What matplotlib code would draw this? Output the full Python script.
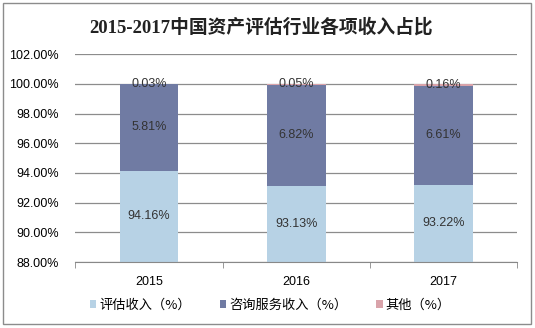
import matplotlib.pyplot as plt
from matplotlib.patches import Patch, Rectangle
import numpy as np

plt.rcParams['font.family'] = ['Liberation Sans', 'Noto Sans CJK SC', 'DejaVu Sans']

years = ['2015', '2016', '2017']
appraisal = [94.16, 93.13, 93.22]
consulting = [5.81, 6.82, 6.61]
other = [0.03, 0.05, 0.16]
series_names = ['评估收入（%）', '咨询服务收入（%）', '其他（%）']
colors = ['#b7d2e5', '#707ba3', '#d9a3aa']
title = '2015-2017中国资产评估行业各项收入占比'

base = 88.0

fig = plt.figure(figsize=(5.35, 3.28), dpi=100)
ax = fig.add_axes([0.141, 0.201, 0.825, 0.634])

x = np.arange(len(years))
width = 0.40

bottoms = np.full(len(years), base)
for vals, c in zip([appraisal, consulting, other], colors):
    vals = np.array(vals)
    heights = vals.copy()
    # first segment starts from the axis floor
    if bottoms[0] == base:
        heights = vals - base
    ax.bar(x, heights, width, bottom=bottoms, color=c, zorder=3)
    for xi, b, h, v in zip(x, bottoms, heights, vals):
        ax.text(xi, b + h / 2, '%.2f%%' % v, ha='center', va='center',
                fontsize=9, color='#333333', zorder=4)
    bottoms = bottoms + heights

ax.set_xlim(-0.5, len(years) - 0.5)
ax.set_ylim(88, 102)
ax.set_yticks(np.arange(88, 102.1, 2))
ax.set_yticklabels(['%.2f%%' % v for v in np.arange(88, 102.1, 2)], fontsize=9)
ax.set_xticks(x)
ax.set_xticklabels(years, fontsize=9)
ax.set_xticks(np.arange(-0.5, len(years), 1), minor=True)
ax.tick_params(axis='x', which='major', length=0, pad=10)
ax.tick_params(axis='x', which='minor', length=4, color='#888888', direction='out')
ax.tick_params(axis='y', length=0, pad=12)
ax.grid(axis='y', color='#8c8c8c', linewidth=0.9, zorder=0)

for side in ['left', 'right', 'top']:
    ax.spines[side].set_visible(False)
ax.spines['bottom'].set_color('#888888')
ax.spines['bottom'].set_zorder(5)

handles = [Patch(facecolor=c) for c in colors]
fig.legend(handles, series_names, loc='center', bbox_to_anchor=(0.505, 0.07),
           ncol=3, frameon=False, handlelength=0.5,
           handleheight=0.5, handletextpad=0.2, columnspacing=2.2,
           prop={'family': ['Noto Sans CJK SC', 'DejaVu Sans'], 'size': 9.5})

fig.text(0.488, 0.918, title, ha='center', va='center', fontsize=13.5,
         fontweight='bold', family=['Liberation Serif', 'Noto Sans CJK SC'],
         color='#222222')

fig.add_artist(Rectangle((0.006, 0.013), 0.987, 0.978, transform=fig.transFigure,
                         fill=False, edgecolor='#8c8c8c', linewidth=1))

fig.savefig('out.png', dpi=100)
